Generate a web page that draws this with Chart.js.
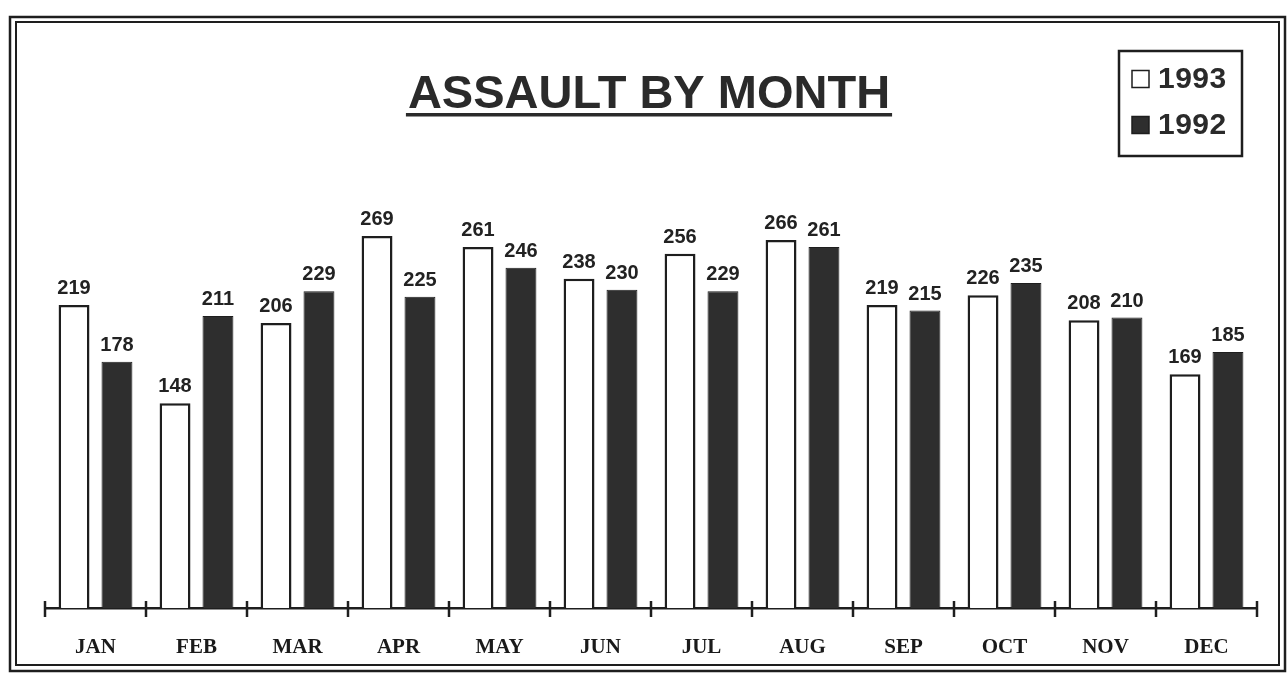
<!DOCTYPE html>
<html>
<head>
<meta charset="utf-8">
<script src="https://cdn.jsdelivr.net/npm/chart.js@4/dist/chart.umd.min.js"></script>
<style>
    html, body { margin: 0; padding: 0; background: #fff; }
    #wrap { width: 1288px; height: 677px; position: relative; }
</style>
</head>
<body>
<div id="wrap"><canvas id="chart" width="1288" height="677"></canvas></div>
<script>
const months = ["JAN", "FEB", "MAR", "APR", "MAY", "JUN", "JUL", "AUG", "SEP", "OCT", "NOV", "DEC"];
const values1993 = [219, 148, 206, 269, 261, 238, 256, 266, 219, 226, 208, 169];
const values1992 = [178, 211, 229, 225, 246, 230, 229, 261, 215, 235, 210, 185];
const chartTitle = "ASSAULT BY MONTH";

const ink = "#1e1e1e";
const darkFill = "#2e2e2e";

// frame, title, legend box
const decorPlugin = {
    id: "decor",
    beforeDraw(chart) {
        const ctx = chart.ctx;
        ctx.save();
        ctx.fillStyle = "#fff";
        ctx.fillRect(0, 0, chart.width, chart.height);
        ctx.strokeStyle = ink;
        ctx.lineWidth = 2.5;
        ctx.strokeRect(10, 17, 1275, 654);
        ctx.lineWidth = 2;
        ctx.strokeRect(16, 22, 1263, 643);
        ctx.restore();
    },
    afterDraw(chart) {
        const ctx = chart.ctx;
        ctx.save();
        // title
        ctx.fillStyle = "#2a2a2a";
        ctx.font = "bold 47px 'Liberation Sans', Arial, sans-serif";
        ctx.textAlign = "center";
        ctx.textBaseline = "alphabetic";
        const tx = 649;
        ctx.fillText(chartTitle, tx, 108);
        const tw = ctx.measureText(chartTitle).width + 4;
        ctx.fillRect(tx - tw / 2, 113, tw, 3.5);

        // legend
        ctx.strokeStyle = ink;
        ctx.lineWidth = 2.5;
        ctx.strokeRect(1119, 51, 123, 105);
        ctx.font = "bold 30px 'Liberation Sans', Arial, sans-serif";
        ctx.letterSpacing = "0.5px";
        ctx.textAlign = "left";
        ctx.textBaseline = "middle";
        chart.data.datasets.forEach((ds, i) => {
            const y = 79 + i * 46;
            ctx.fillStyle = ds.backgroundColor;
            ctx.fillRect(1132, y - 8.5, 17, 17);
            ctx.lineWidth = 1.5;
            ctx.strokeRect(1132, y - 8.5, 17, 17);
            ctx.fillStyle = "#2a2a2a";
            ctx.fillText(ds.label, 1158, y + 1);
        });
        ctx.letterSpacing = "0px";

        // axis ticks at category boundaries
        const xs = chart.scales.x;
        const base = chart.chartArea.bottom;
        ctx.lineWidth = 2.5;
        ctx.strokeStyle = ink;
        for (let i = 0; i <= months.length; i++) {
            const px = i < months.length
                ? xs.getPixelForValue(i) - xs.width / months.length / 2
                : xs.getPixelForValue(i - 1) + xs.width / months.length / 2;
            ctx.beginPath();
            ctx.moveTo(px, base - 7);
            ctx.lineTo(px, base + 9);
            ctx.stroke();
        }
        ctx.restore();
    },
    afterDatasetsDraw(chart) {
        const ctx = chart.ctx;
        ctx.save();
        ctx.fillStyle = "#222";
        ctx.font = "bold 20px 'Liberation Sans', Arial, sans-serif";
        ctx.textAlign = "center";
        ctx.textBaseline = "alphabetic";
        chart.data.datasets.forEach((ds, di) => {
            const meta = chart.getDatasetMeta(di);
            meta.data.forEach((bar, i) => {
                ctx.fillText(ds.data[i], bar.x, bar.y - 11);
            });
        });
        ctx.restore();
    }
};

new Chart(document.getElementById("chart").getContext("2d"), {
    type: "bar",
    data: {
        labels: months,
        datasets: [
            {
                label: "1993",
                data: values1993,
                backgroundColor: "#ffffff",
                borderColor: ink,
                borderWidth: 2.5,
                borderSkipped: "bottom",
            },
            {
                label: "1992",
                data: values1992,
                backgroundColor: darkFill,
                borderColor: ink,
                borderWidth: 1,
                borderSkipped: "bottom",
            },
        ],
    },
    options: {
        responsive: false,
        animation: false,
        events: [],
        layout: { padding: { left: 45, right: 31, top: 193, bottom: 0 } },
        datasets: { bar: { categoryPercentage: 0.85, barPercentage: 0.72 } },
        plugins: {
            legend: { display: false },
            title: { display: false },
            tooltip: { enabled: false },
        },
        scales: {
            x: {
                offset: true,
                grid: { display: false },
                border: { display: true, color: ink, width: 2.5 },
                afterFit(scale) { scale.height = 69; },
                ticks: {
                    color: "#1a1a1a",
                    padding: 19,
                    font: { family: "'Liberation Serif', 'Times New Roman', serif", weight: "bold", size: 21 },
                },
            },
            y: {
                display: false,
                min: 0,
                max: 300,
            },
        },
    },
    plugins: [decorPlugin],
});
</script>
</body>
</html>
